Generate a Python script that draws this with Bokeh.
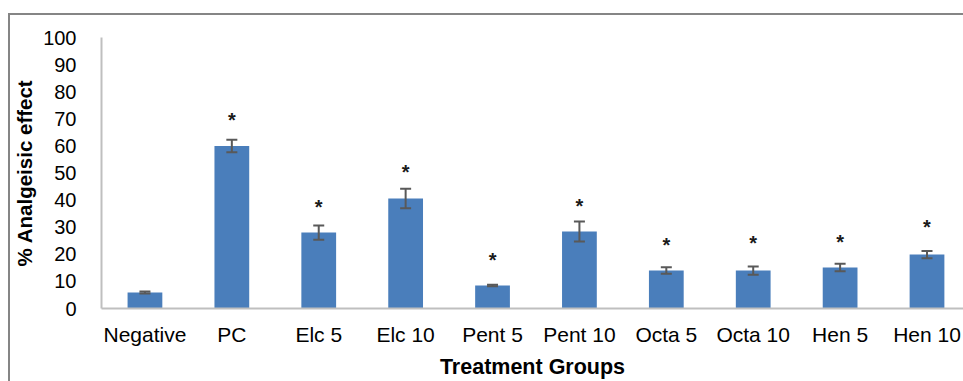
from bokeh.plotting import figure
from bokeh.models import Range1d, FixedTicker, Whisker, ColumnDataSource, TeeHead
from bokeh.core.properties import value
from bokeh.embed import file_html
from bokeh.resources import INLINE

groups = ["Negative", "PC", "Elc 5", "Elc 10", "Pent 5", "Pent 10", "Octa 5", "Octa 10", "Hen 5", "Hen 10"]
effect = [5.9, 60.0, 28.0, 40.6, 8.5, 28.4, 14.0, 14.0, 15.1, 19.9]
sd = [0.4, 2.3, 2.6, 3.6, 0.3, 3.7, 1.2, 1.5, 1.4, 1.35]
sig_mark = ["", "*", "*", "*", "*", "*", "*", "*", "*", "*"]
sig_height = [0, 69.6, 37.6, 50.3, 18.0, 38.0, 23.6, 24.1, 24.7, 30.0]
y_ticks = [0, 10, 20, 30, 40, 50, 60, 70, 80, 90, 100]

FONT = "Liberation Sans"
xpos = [i + 0.5 for i in range(len(groups))]

src = ColumnDataSource(dict(
    x=xpos, top=effect,
    upper=[v + e for v, e in zip(effect, sd)],
    lower=[v - e for v, e in zip(effect, sd)],
    sy=sig_height, mark=sig_mark,
))

p = figure(frame_width=862, frame_height=271, output_backend="svg", toolbar_location=None,
           x_range=Range1d(0, 9.92), y_range=Range1d(0, 100),
           min_border_left=91, min_border_right=0, min_border_top=22, min_border_bottom=73)
p.styles = {"margin-top": "13px", "margin-left": "8px",
            "border-left": "2px solid #858585", "border-top": "2px solid #858585"}

p.vbar(x="x", top="top", width=0.40, bottom=0, source=src, color="#4A7EBB", line_color=None)

w = Whisker(base="x", upper="upper", lower="lower", source=src, level="overlay",
            line_color="#595959", line_width=2,
            upper_head=TeeHead(size=11, line_color="#595959", line_width=2),
            lower_head=TeeHead(size=11, line_color="#595959", line_width=2))
p.add_layout(w)

p.text(x="x", y="sy", text="mark", source=src, text_font=value(FONT),
       text_font_size="20px", text_font_style="bold", text_color="#1a1a1a",
       text_align="center", text_baseline="middle")

p.xgrid.visible = False
p.ygrid.visible = False
p.outline_line_color = None

p.xaxis.ticker = FixedTicker(ticks=xpos)
p.xaxis.major_label_overrides = {x: g for x, g in zip(xpos, groups)}
p.yaxis.ticker = FixedTicker(ticks=y_ticks)

for ax in (p.xaxis[0], p.yaxis[0]):
    ax.axis_line_color = "#bfbfbf"
    ax.axis_line_width = 2
    ax.major_tick_line_color = None
    ax.minor_tick_line_color = None
    ax.major_label_text_font = FONT
    ax.major_label_text_color = "#000000"
    ax.axis_label_text_font = FONT
    ax.axis_label_text_font_style = "bold"
    ax.axis_label_text_color = "#000000"

p.xaxis.axis_label_text_font_size = "21.5px"
p.yaxis.axis_label_text_font_size = "20.5px"
p.xaxis.major_label_text_font_size = "21px"
p.yaxis.major_label_text_font_size = "20px"
p.xaxis.major_label_standoff = 8
p.yaxis.major_label_standoff = 19
p.xaxis.axis_label_standoff = 6
p.yaxis.axis_label_standoff = 4
p.xaxis.axis_label = "Treatment Groups"
p.yaxis.axis_label = "% Analgeisic effect"

open("out.html", "w").write(file_html(p, INLINE))
